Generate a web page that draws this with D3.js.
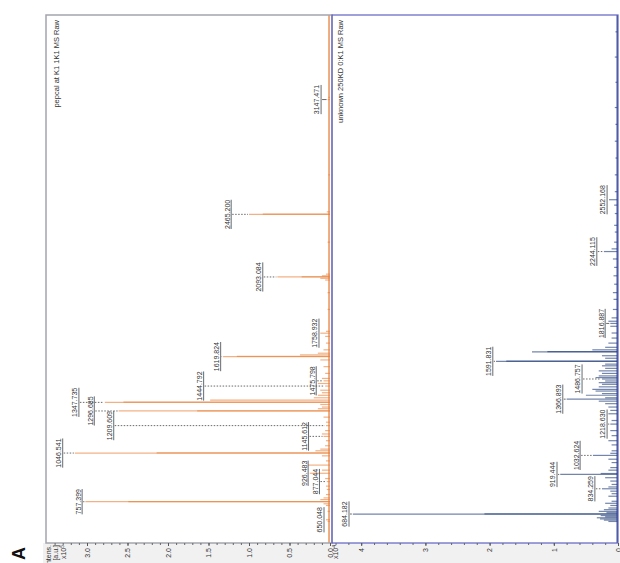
<!DOCTYPE html>
<html>
<head>
<meta charset="utf-8">
<script src="https://cdn.jsdelivr.net/npm/d3@7"></script>
<style>
  body { margin: 0; background: #fff; }
  svg { display: block; font-family: "Liberation Sans", Arial, sans-serif; }
</style>
</head>
<body>
<div id="chart"></div>
<script>
// ---------- data (m/z, intensity) ----------
// upper spectrum, intensity in 1e5 a.u.
const upperLabelMz  = [650.048, 757.399, 877.044, 926.483, 1046.541, 1145.612, 1209.609, 1296.685,
                       1347.735, 1444.792, 1475.798, 1619.824, 1758.932, 2093.084, 2465.200, 3147.471];
const upperLabelInt = [0.05, 3.02, 0.04, 0.25, 3.15, 0.08, 0.05, 2.61,
                       2.78, 0.06, 0.08, 1.32, 0.12, 0.65, 1.00, 0.03];
// other sticks of the upper trace (isotopes and small peaks)
const upperMz  = [758.4, 1047.5, 1297.7, 1348.7, 1361.7, 1620.8, 2094.1, 2466.2,
                  640, 700, 735, 745, 770, 780, 800, 830, 850, 895, 945, 975, 1000, 1030, 1060, 1070,
                  1090, 1120, 1160, 1180, 1230, 1260, 1310, 1320, 1335, 1375, 1390, 1405, 1420, 1460,
                  1490, 1520, 1560, 1600, 1630, 1640, 1660, 1700, 1740, 1770, 1900, 2000, 2075, 2085,
                  2100, 2110, 2300, 2480, 2700, 3160];
const upperInt = [2.49, 2.14, 1.64, 2.55, 1.48, 1.15, 0.35, 0.83,
                  0.03, 0.03, 0.05, 0.08, 0.12, 0.08, 0.05, 0.04, 0.05, 0.06, 0.10, 0.27, 0.05, 0.10, 0.18, 0.12,
                  0.06, 0.05, 0.10, 0.06, 0.05, 0.08, 0.15, 0.10, 0.12, 0.20, 0.15, 0.10, 0.12, 0.15,
                  0.10, 0.06, 0.08, 0.12, 0.37, 0.15, 0.08, 0.05, 0.06, 0.05, 0.03, 0.03, 0.06, 0.12,
                  0.10, 0.05, 0.03, 0.04, 0.02, 0.02];

// lower spectrum, intensity in 1e4 a.u.
const lowerLabelMz  = [684.182, 834.259, 919.444, 1032.624, 1218.630, 1366.893, 1486.757, 1591.831,
                       1816.887, 2244.115, 2552.168];
const lowerLabelInt = [4.13, 0.25, 0.90, 0.39, 0.12, 0.80, 0.25, 1.90, 0.12, 0.22, 0.14];
const lowerMz  = [685.2, 1592.8, 1648, 1649,
                  640, 648, 655, 662, 668, 675, 692, 700, 710, 720, 735, 748, 760, 790, 805, 820, 845, 860,
                  880, 900, 925, 945, 960, 990, 1010, 1045, 1060, 1095, 1120, 1150, 1180, 1240, 1280, 1300,
                  1320, 1340, 1355, 1375, 1390, 1400, 1415, 1425, 1440, 1455, 1465, 1475, 1495, 1505, 1520,
                  1535, 1550, 1565, 1575, 1610, 1625, 1660, 1675, 1700, 1730, 1760, 1800, 1830, 1850, 1900,
                  1960, 2000, 2050, 2100, 2150, 2200, 2260, 2300, 2360, 2400, 2470, 2520, 2600, 2700, 2800,
                  2900, 3000, 3100, 3250, 3400, 3550];
const lowerInt = [2.08, 1.74, 1.34, 1.10,
                  0.15, 0.22, 0.28, 0.33, 0.20, 0.27, 0.18, 0.30, 0.22, 0.15, 0.12, 0.20, 0.10, 0.15, 0.10, 0.12, 0.15, 0.10,
                  0.12, 0.20, 0.27, 0.15, 0.12, 0.10, 0.15, 0.12, 0.10, 0.10, 0.15, 0.10, 0.12, 0.10, 0.15, 0.12,
                  0.15, 0.20, 0.30, 0.20, 0.50, 0.25, 0.35, 0.40, 0.30, 0.25, 0.30, 0.20, 0.35, 0.30, 0.25,
                  0.30, 0.20, 0.25, 0.20, 0.20, 0.25, 0.40, 0.20, 0.15, 0.10, 0.10, 0.12, 0.15, 0.10, 0.08,
                  0.07, 0.08, 0.06, 0.07, 0.06, 0.08, 0.10, 0.06, 0.05, 0.06, 0.05, 0.06, 0.05, 0.05, 0.04,
                  0.05, 0.04, 0.05, 0.04, 0.05, 0.04];

const upperTicks = [0, 0.5, 1, 1.5, 2, 2.5, 3];
const lowerTicks = [0, 1, 2, 3, 4];
const upperTitle = "pepcal at K1 1K1 MS Raw";
const lowerTitle = "unknown 250KD 0:K1 MS Raw";

// where each peak label sits (intensity units of its panel)
const upperLabelLevel = [0.074, 3.06, 0.13, 0.27, 3.30, 0.265, 2.67, 2.91, 3.10, 1.56, 0.17, 1.35, 0.136, 0.83, 1.22, 0.11];
const lowerLabelLevel = [4.19, 0.36, 0.95, 0.59, 0.17, 0.86, 0.56, 1.95, 0.20, 0.33, 0.17];

// ---------- layout ----------
const width = 620, height = 563;
const box = { left: 46, top: 15, right: 618, bottom: 543 };
const plotW = box.bottom - box.top;   // m/z runs bottom -> top on screen
const plotH = box.right - box.left;   // intensity runs across the page
const split = 286;                    // border between the two traces

const svg = d3.select("#chart").append("svg")
  .attr("width", width)
  .attr("height", height);

// light strip under the frame for the intensity axis
svg.append("rect")
  .attr("x", 43).attr("y", box.bottom)
  .attr("width", width - 43).attr("height", height - box.bottom)
  .attr("fill", "#f1f1f1");

// draw as a normal stacked spectrum, then turn it a quarter counter-clockwise
const g = svg.append("g")
  .attr("transform", `translate(${box.left},${box.bottom}) rotate(-90)`);

const x = d3.scaleLinear().domain([512, 3650]).range([0, plotW]);
const yUp = d3.scaleLinear().domain([0, 3]).range([284, 41]);
const yLo = d3.scaleLinear().domain([0, 4]).range([plotH, plotH - 256.8]);

function trace(y, mz, ints, labMz, labInt, color) {
  const sticks = mz.map((m, i) => ({ m, v: ints[i] }))
    .concat(labMz.map((m, i) => ({ m, v: labInt[i] })));
  const t = g.append("g");
  t.append("line")
    .attr("x1", 0).attr("x2", plotW)
    .attr("y1", y(0.012)).attr("y2", y(0.012))
    .attr("stroke", color).attr("stroke-width", 1.3);
  t.selectAll("line.stick")
    .data(sticks)
    .join("line")
    .attr("class", "stick")
    .attr("x1", d => x(d.m)).attr("x2", d => x(d.m))
    .attr("y1", y(0)).attr("y2", d => y(d.v))
    .attr("stroke", color)
    .attr("stroke-width", 1.2)
    .attr("stroke-opacity", 0.62);
}

function labels(y, labMz, labInt, levels) {
  const lab = g.append("g").selectAll("g")
    .data(labMz.map((m, i) => ({ m, v: labInt[i], l: levels[i] })))
    .join("g");
  lab.append("text")
    .attr("x", d => x(d.m))
    .attr("y", d => y(d.l) - 1.6)
    .attr("text-anchor", "middle")
    .attr("font-size", 7)
    .attr("fill", "#333")
    .text(d => d.m.toFixed(3));
  lab.each(function (d) {
    const sel = d3.select(this);
    const w = sel.select("text").node().getComputedTextLength();
    sel.append("line")
      .attr("x1", x(d.m) - w / 2).attr("x2", x(d.m) + w / 2)
      .attr("y1", y(d.l)).attr("y2", y(d.l))
      .attr("stroke", "#444").attr("stroke-width", 0.8);
    const y0 = y(d.l) + 1, y1 = y(d.v) - 1;
    if (y1 > y0) {
      sel.append("line")
        .attr("x1", x(d.m)).attr("x2", x(d.m))
        .attr("y1", y0).attr("y2", y1)
        .attr("stroke", "#444").attr("stroke-width", 0.8)
        .attr("stroke-dasharray", y1 - y0 > 5 ? "1.5,1.5" : null);
    }
  });
}

trace(yUp, upperMz, upperInt, upperLabelMz, upperLabelInt, "#e8813a");
trace(yLo, lowerMz, lowerInt, lowerLabelMz, lowerLabelInt, "#1d3a78");
labels(yUp, upperLabelMz, upperLabelInt, upperLabelLevel);
labels(yLo, lowerLabelMz, lowerLabelInt, lowerLabelLevel);

// frames
g.append("rect")
  .attr("x", 0).attr("y", 0).attr("width", plotW).attr("height", split)
  .attr("fill", "none").attr("stroke", "#a4a5ae").attr("stroke-width", 1.5);
g.append("rect")
  .attr("x", 0).attr("y", split).attr("width", plotW).attr("height", plotH - split)
  .attr("fill", "none").attr("stroke", "#6262c4").attr("stroke-width", 1.2);

// trace titles
g.append("text").attr("x", plotW - 5).attr("y", 12.5)
  .attr("text-anchor", "end").attr("font-size", 7.5).attr("fill", "#333").text(upperTitle);
g.append("text").attr("x", plotW - 5).attr("y", split + 10.5)
  .attr("text-anchor", "end").attr("font-size", 7.5).attr("fill", "#333").text(lowerTitle);

// intensity axes (minor ticks, then labelled ones)
function axis(y, minor, major, fmt) {
  g.append("g")
    .call(d3.axisLeft(y).tickValues(minor).tickSize(2).tickFormat(""))
    .call(a => a.select(".domain").remove())
    .call(a => a.selectAll("line").attr("stroke", "#666"));
  g.append("g")
    .call(d3.axisLeft(y).tickValues(major).tickSize(3).tickPadding(2).tickFormat(fmt))
    .call(a => a.select(".domain").remove())
    .call(a => a.selectAll("line").attr("stroke", "#555"))
    .call(a => a.selectAll("text").attr("font-size", 7).attr("fill", "#333")
      .attr("font-family", "Liberation Sans, Arial, sans-serif"));
}
axis(yUp, d3.range(0, 35).map(i => i / 10), upperTicks, d3.format(".1f"));
axis(yLo, d3.range(0, 23).map(i => i / 5), lowerTicks, d3.format("d"));

// axis unit captions
const cap = g.append("g").attr("font-size", 7).attr("fill", "#333").attr("text-anchor", "end");
cap.append("text").attr("x", -2).attr("y", 4.5).text("Intens.");
cap.append("text").attr("x", -2).attr("y", 11.5).text("[a.u.]");
const e5 = cap.append("text").attr("x", -2).attr("y", 19.5).text("x10");
e5.append("tspan").attr("font-size", 5).attr("dy", -2).text("5");
const e4 = cap.append("text").attr("x", -2).attr("y", split + 6).text("x10");
e4.append("tspan").attr("font-size", 5).attr("dy", -2).text("4");

// panel letter
g.append("text")
  .attr("x", -10.5).attr("y", -21)
  .attr("text-anchor", "middle")
  .attr("font-size", 18).attr("font-weight", "bold")
  .attr("fill", "#111")
  .text("A");
</script>
</body>
</html>
